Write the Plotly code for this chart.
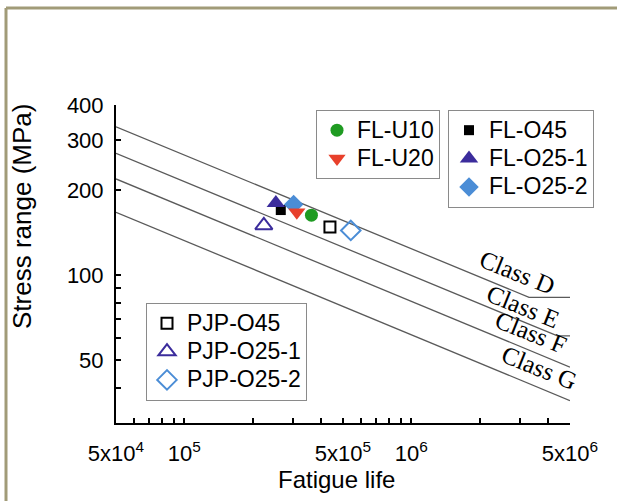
import math
import plotly.graph_objects as go

# ---------------- data ----------------
class_names = ["Class D", "Class E", "Class F", "Class G"]
class_D_N = [5e4, 3.3e6, 5e6]
class_D_S = [335, 83.5, 83.5]
class_E_N = [5e4, 4.4e6, 5e6]
class_E_S = [270, 61, 61]
class_F_N = [5e4, 5e6]
class_F_S = [219, 47.3]
class_G_N = [5e4, 5e6]
class_G_S = [167, 36]

series_names = ["FL-O45", "FL-O25-1", "FL-O25-2", "FL-U10", "FL-U20",
                "PJP-O45", "PJP-O25-1", "PJP-O25-2"]
fatigue_life = [2.66e5, 2.53e5, 3.03e5, 3.63e5, 3.13e5, 4.38e5, 2.24e5, 5.41e5]
stress_range = [170, 180, 178, 163, 167, 148, 150, 144]

x_tickvals = [5e4, 6e4, 7e4, 8e4, 9e4, 1e5, 2e5, 3e5, 4e5, 5e5, 6e5, 7e5, 8e5, 9e5,
              1e6, 2e6, 3e6, 4e6, 5e6]
x_ticktext = ["5x10<sup>4</sup>", "", "", "", "", "10<sup>5</sup>", "", "", "",
              "5x10<sup>5</sup>", "", "", "", "", "10<sup>6</sup>", "", "", "",
              "5x10<sup>6</sup>"]
y_tickvals = [40, 50, 60, 70, 80, 90, 100, 200, 300, 400]
y_ticktext = ["", "50", "", "", "", "", "100", "200", "300", "400"]

# ---------------- styles ----------------
SANS = "Liberation Sans, Arial, sans-serif"
SERIF = "Liberation Serif, Times New Roman, serif"
styles = {
    "FL-U10": dict(symbol="circle", size=13, color="#1f9b22", legend="legend"),
    "FL-U20": dict(symbol="triangle-down", size=15, color="#e8402b", legend="legend"),
    "FL-O45": dict(symbol="square", size=10, color="#000000", legend="legend2"),
    "FL-O25-1": dict(symbol="triangle-up", size=16, color="#3b2c9c", legend="legend2"),
    "FL-O25-2": dict(symbol="diamond", size=15, color="#4b8dd6", legend="legend2"),
    "PJP-O45": dict(symbol="square-open", size=11, color="#000000", legend="legend3"),
    "PJP-O25-1": dict(symbol="triangle-up-open", size=15, color="#3b2c9c", legend="legend3"),
    "PJP-O25-2": dict(symbol="diamond-open", size=15, color="#4b8dd6", legend="legend3"),
}

fig = go.Figure()

for n_vals, s_vals in [(class_D_N, class_D_S), (class_E_N, class_E_S),
                       (class_F_N, class_F_S), (class_G_N, class_G_S)]:
    fig.add_trace(go.Scatter(x=n_vals, y=s_vals, mode="lines",
                             line=dict(color="#5a5a5a", width=1.3),
                             showlegend=False, hoverinfo="skip", cliponaxis=False))

for name, n, s in zip(series_names, fatigue_life, stress_range):
    st = styles[name]
    fig.add_trace(go.Scatter(
        x=[n], y=[s], mode="markers",
        name='<span style="font-size:23px">' + name + '</span>',
        legend=st["legend"],
        marker=dict(symbol=st["symbol"], size=st["size"], color=st["color"],
                    line=dict(width=2 if "open" in st["symbol"] else 0,
                              color=st["color"]))))

L, R, T, B = 116, 47, 105, 78
W, H = 617, 501
pw, ph = W - L - R, H - T - B


def px(xp):
    return (xp - L) / pw


def py(yp):
    return (H - B - yp) / ph


legend_common = dict(bgcolor="white", bordercolor="#8a8a8a", borderwidth=1,
                     font=dict(family=SANS, size=19.5, color="black"),
                     xanchor="left", yanchor="top", itemsizing="trace",
                     tracegroupgap=0)

fig.update_layout(
    width=W, height=H, template="none",
    paper_bgcolor="white", plot_bgcolor="white",
    margin=dict(l=L, r=R, t=T, b=B),
    font=dict(family=SANS, size=22, color="black"),
    legend=dict(x=px(316), y=py(110), **legend_common),
    legend2=dict(x=px(448), y=py(110), **legend_common),
    legend3=dict(x=px(146), y=py(303), **legend_common),
    xaxis=dict(type="log", range=[math.log10(5e4), math.log10(5e6)],
               tickmode="array", tickvals=x_tickvals, ticktext=x_ticktext,
               ticks="inside", ticklen=5, tickwidth=1.5, tickcolor="black",
               showline=True, linecolor="black", linewidth=2,
               showgrid=False, zeroline=False, mirror=False,
               ticklabelstandoff=10,
               tickfont=dict(family=SANS, size=22, color="black")),
    yaxis=dict(type="log", range=[math.log10(30), math.log10(400)],
               tickmode="array", tickvals=y_tickvals, ticktext=y_ticktext,
               ticks="inside", ticklen=5, tickwidth=1.5, tickcolor="black",
               showline=True, linecolor="black", linewidth=2,
               showgrid=False, zeroline=False, mirror=False,
               ticklabelstandoff=6,
               tickfont=dict(family=SANS, size=22, color="black")),
    showlegend=True,
)

annotations = [
    dict(text="Stress range (MPa)", xref="paper", yref="paper", x=px(22), y=py(217),
         xanchor="center", yanchor="middle",
         textangle=-90, showarrow=False, font=dict(family=SANS, size=26, color="black")),
    dict(text="Fatigue life", xref="paper", yref="paper", x=px(336), y=py(479),
         xanchor="center", yanchor="middle",
         showarrow=False, font=dict(family=SANS, size=24, color="black")),
]
label_pos = [(6.466, 2.0096), (6.491, 1.888), (6.528, 1.799), (6.561, 1.673)]
for name, (lx, ly) in zip(class_names, label_pos):
    annotations.append(dict(text=name, xref="x", yref="y", x=lx, y=ly, textangle=22,
                            xanchor="center", yanchor="middle", showarrow=False,
                            font=dict(family=SERIF, size=25, color="black")))
fig.update_layout(annotations=annotations)

# outer frame (top and left edges visible in the reference)
frame = "#a19b78"
fig.add_shape(type="line", xref="paper", yref="paper", x0=px(6), x1=px(W + 2),
              y0=py(8), y1=py(8), line=dict(color=frame, width=3))
fig.add_shape(type="line", xref="paper", yref="paper", x0=px(6), x1=px(6),
              y0=py(8), y1=py(H + 2), line=dict(color=frame, width=3))

fig.write_html("out.html")
